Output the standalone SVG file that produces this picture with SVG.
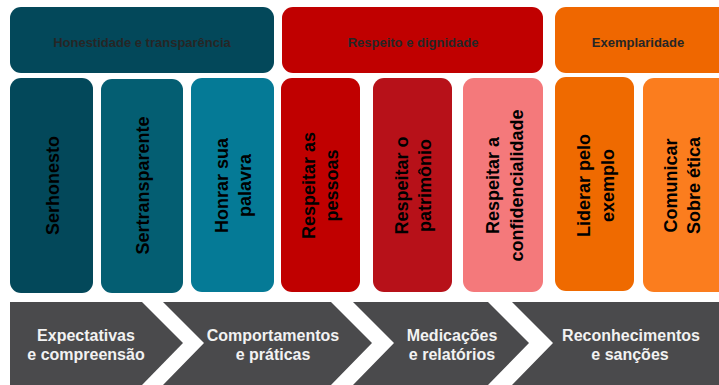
<svg xmlns="http://www.w3.org/2000/svg" width="719" height="385" viewBox="0 0 719 385">
<style>
.hd{font-family:"Liberation Sans",Arial,sans-serif;font-weight:bold;font-size:13px;fill:#262626;text-anchor:middle}
.col{font-family:"Liberation Sans",Arial,sans-serif;font-weight:bold;font-size:18px;fill:#000;text-anchor:middle}
.ch{font-family:"Liberation Sans",Arial,sans-serif;font-weight:bold;font-size:16px;fill:#f2f2f2;text-anchor:middle}
.chev{fill:#4a4a4c}
</style>
<rect width="719" height="385" fill="#fff"/>
<g id="h1"><rect x="10" y="7" width="264" height="66" rx="11" fill="#03485a"/><text class="hd" x="142" y="46.5">Honestidade e transparência</text></g>
<g id="h2"><rect x="282" y="7" width="261" height="66" rx="11" fill="#c00000"/><text class="hd" x="413" y="46.5">Respeito e dignidade</text></g>
<g id="h3"><rect x="555" y="7" width="175" height="66" rx="11" fill="#ef6700"/><text class="hd" x="638" y="46.5">Exemplaridade</text></g>

<g id="c1"><rect x="10" y="78" width="83" height="215" rx="11" fill="#03485a"/><text class="col" transform="translate(51.5,185.5) rotate(-90)" y="7">Serhonesto</text></g>
<g id="c2"><rect x="101" y="79" width="82" height="214" rx="11" fill="#045e72"/><text class="col" transform="translate(142,185.5) rotate(-90)" y="7">Sertransparente</text></g>
<g id="c3"><rect x="191" y="78" width="83" height="214" rx="11" fill="#057a96"/><text class="col" transform="translate(232.5,185.5) rotate(-90)"><tspan x="0" y="-4.5">Honrar sua</tspan><tspan x="0" y="18">palavra</tspan></text></g>
<g id="c4"><rect x="281" y="78" width="79" height="214" rx="11" fill="#c00000"/><text class="col" transform="translate(320.5,185.5) rotate(-90)"><tspan x="0" y="-5.5">Respeitar as</tspan><tspan x="0" y="17">pessoas</tspan></text></g>
<g id="c5"><rect x="373" y="78" width="79" height="214" rx="11" fill="#b71119"/><text class="col" transform="translate(412.5,185.5) rotate(-90)"><tspan x="0" y="-5">Respeitar o</tspan><tspan x="0" y="18.5">patrimônio</tspan></text></g>
<g id="c6"><rect x="463" y="78" width="80" height="214" rx="11" fill="#f4797b"/><text class="col" transform="translate(503,185.5) rotate(-90)"><tspan x="0" y="-4">Respeitar a</tspan><tspan x="0" y="19.5">confidencialidade</tspan></text></g>
<g id="c7"><rect x="555" y="77" width="79" height="214" rx="11" fill="#ef6a00"/><text class="col" transform="translate(594.5,185.5) rotate(-90)"><tspan x="0" y="-4.5">Liderar pelo</tspan><tspan x="0" y="19.5">exemplo</tspan></text></g>
<g id="c8"><rect x="643" y="78" width="87" height="214" rx="11" fill="#fb7d1e"/><text class="col" transform="translate(681,185.5) rotate(-90)"><tspan x="0" y="-4.5">Comunicar</tspan><tspan x="0" y="18.5">Sobre ética</tspan></text></g>

<g id="s1"><path class="chev" d="M10,302 L142,302 L183,343 L142,385 L10,385 Z"/><text class="ch" x="86" y="341">Expectativas</text><text class="ch" x="86" y="360">e compreensão</text></g>
<g id="s2"><path class="chev" d="M163,302 L331,302 L372,343 L331,385 L163,385 L204,343 Z"/><text class="ch" x="273" y="341">Comportamentos</text><text class="ch" x="273" y="360">e práticas</text></g>
<g id="s3"><path class="chev" d="M353,302 L488,302 L529,343 L488,385 L353,385 L394,343 Z"/><text class="ch" x="452" y="341">Medicações</text><text class="ch" x="452" y="360">e relatórios</text></g>
<g id="s4"><path class="chev" d="M512,302 L719,302 L719,385 L512,385 L553,343 Z"/><text class="ch" x="631" y="341">Reconhecimentos</text><text class="ch" x="630" y="360">e sanções</text></g>
<g id="connectors"></g>
</svg>
